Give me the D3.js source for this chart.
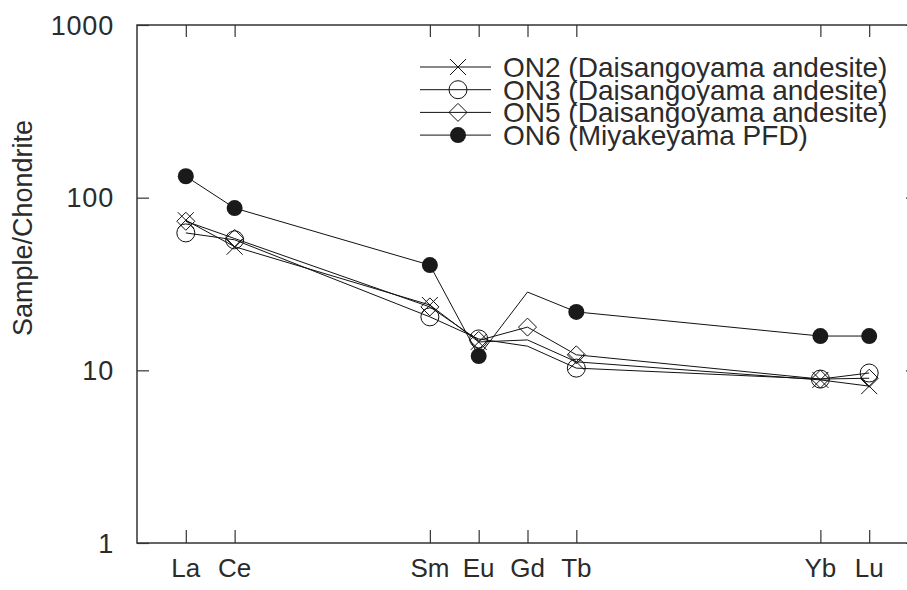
<!DOCTYPE html>
<html>
<head>
<meta charset="utf-8">
<script src="https://cdn.jsdelivr.net/npm/d3@7"></script>
<style>
  html, body { margin: 0; padding: 0; background: #fff; }
  svg { display: block; font-family: "Liberation Sans", Arial, sans-serif; }
</style>
</head>
<body>
<svg width="907" height="590"></svg>
<script>
// rare earth elements in order, only some are plotted
var ree = ['La', 'Ce', 'Pr', 'Nd', 'Pm', 'Sm', 'Eu', 'Gd', 'Tb', 'Dy', 'Ho', 'Er', 'Tm', 'Yb', 'Lu'];
var elements = ['La', 'Ce', 'Sm', 'Eu', 'Gd', 'Tb', 'Yb', 'Lu'];
var yTicks = [1, 10, 100, 1000];

var seriesNames = ['ON2 (Daisangoyama andesite)', 'ON3 (Daisangoyama andesite)',
                   'ON5 (Daisangoyama andesite)', 'ON6 (Miyakeyama PFD)'];
var on2 = [74, 52, 23.9, 14.6, 15.0, 11.2, 8.8, 8.1];
var on3 = [62.5, 57, 20.4, 15.2, 13.8, 10.3, 8.9, 9.65];
var on5 = [73, 58, 23.3, 14.9, 17.8, 12.3, 8.9, 9.0];
var on6 = [133, 87, 40.7, 12.1, 28.4, 21.8, 15.8, 15.8];
// vertices drawn on the line but without a symbol
var unmarked = [['Gd'], ['Gd'], [], ['Gd']];
var symbols = ['cross', 'circle', 'diamond', 'dot'];

var allSeries = [on2, on3, on5, on6];

var svg = d3.select('svg');
var plotL = 137, plotR = 918, plotT = 25, plotB = 543;
var textColor = '#2b2b2b';

var x = d3.scaleLinear().domain([-1, ree.length]).range([plotL, plotR]);
var y = d3.scaleLog().domain([1, 1000]).range([plotB, plotT]);

function xOf(el) { return x(ree.indexOf(el)); }

// frame
var axisColor = '#333';
svg.append('rect')
  .attr('x', plotL).attr('y', plotT)
  .attr('width', plotR - plotL).attr('height', plotB - plotT)
  .attr('fill', 'none')
  .attr('stroke', axisColor)
  .attr('stroke-width', 1.5);

// y ticks, left and right, pointing inwards
var yAxisL = d3.axisRight(y).tickValues(yTicks).tickSize(12).tickFormat('');
var yAxisR = d3.axisLeft(y).tickValues(yTicks).tickSize(12).tickFormat('');
svg.append('g').attr('transform', 'translate(' + plotL + ',0)').call(yAxisL);
svg.append('g').attr('transform', 'translate(' + plotR + ',0)').call(yAxisR);

// x ticks, bottom and top
var xTickVals = elements.map(function (e) { return ree.indexOf(e); });
var xAxisB = d3.axisTop(x).tickValues(xTickVals).tickSize(13).tickFormat('');
var xAxisT = d3.axisBottom(x).tickValues(xTickVals).tickSize(12).tickFormat('');
svg.append('g').attr('transform', 'translate(0,' + plotB + ')').call(xAxisB);
svg.append('g').attr('transform', 'translate(0,' + plotT + ')').call(xAxisT);

svg.selectAll('.domain').remove();
svg.selectAll('.tick line').attr('stroke', axisColor).attr('stroke-width', 1.2);

// tick labels
svg.selectAll('.ylab')
  .data(yTicks)
  .enter().append('text')
  .attr('x', 114)
  .attr('y', function (d) { return y(d); })
  .attr('dy', '0.36em')
  .attr('text-anchor', 'end')
  .attr('font-size', 27)
  .attr('letter-spacing', 0.8)
  .attr('fill', textColor)
  .text(function (d) { return d; });

svg.selectAll('.xlab')
  .data(elements)
  .enter().append('text')
  .attr('x', function (d) { return xOf(d); })
  .attr('y', 577)
  .attr('text-anchor', 'middle')
  .attr('font-size', 26)
  .attr('fill', textColor)
  .text(function (d) { return d; });

svg.append('text')
  .attr('transform', 'translate(32,' + ((plotT + plotB) / 2 - 56) + ') rotate(-90)')
  .attr('text-anchor', 'middle')
  .attr('font-size', 27)
  .attr('fill', textColor)
  .text('Sample/Chondrite');

// symbols
function drawSymbol(g, kind, cx, cy) {
  if (kind == 'cross') {
    var s = 8;
    g.append('path')
      .attr('d', 'M' + (cx - s) + ',' + (cy - s) + 'L' + (cx + s) + ',' + (cy + s) +
                 'M' + (cx - s) + ',' + (cy + s) + 'L' + (cx + s) + ',' + (cy - s))
      .attr('stroke', '#111').attr('stroke-width', 1).attr('fill', 'none');
  }
  else if (kind == 'circle') {
    g.append('circle')
      .attr('cx', cx).attr('cy', cy).attr('r', 9)
      .attr('stroke', '#111').attr('stroke-width', 1).attr('fill', 'none');
  }
  else if (kind == 'diamond') {
    var d = 9;
    g.append('path')
      .attr('d', 'M' + cx + ',' + (cy - d) + 'L' + (cx + d) + ',' + cy +
                 'L' + cx + ',' + (cy + d) + 'L' + (cx - d) + ',' + cy + 'Z')
      .attr('stroke', '#111').attr('stroke-width', 1).attr('fill', 'none');
  }
  else {
    g.append('circle')
      .attr('cx', cx).attr('cy', cy).attr('r', 8)
      .attr('fill', '#1a1a1a');
  }
}

var line = d3.line()
  .x(function (d, i) { return xOf(elements[i]); })
  .y(function (d) { return y(d); });

allSeries.forEach(function (vals, si) {
  var g = svg.append('g');
  g.append('path')
    .attr('d', line(vals))
    .attr('fill', 'none')
    .attr('stroke', '#111')
    .attr('stroke-width', 1);
  vals.forEach(function (v, i) {
    if (unmarked[si].indexOf(elements[i]) >= 0) return;
    drawSymbol(g, symbols[si], xOf(elements[i]), y(v));
  });
});

// legend
var legend = svg.append('g');
seriesNames.forEach(function (name, i) {
  var ly = 67 + i * 22.7;
  legend.append('line')
    .attr('x1', 420).attr('x2', 491)
    .attr('y1', ly).attr('y2', ly)
    .attr('stroke', '#111').attr('stroke-width', 1);
  drawSymbol(legend, symbols[i], 458, ly);
  legend.append('text')
    .attr('x', 503)
    .attr('y', ly)
    .attr('dy', '0.36em')
    .attr('font-size', 28)
    .attr('fill', textColor)
    .text(name);
});
</script>
</body>
</html>
